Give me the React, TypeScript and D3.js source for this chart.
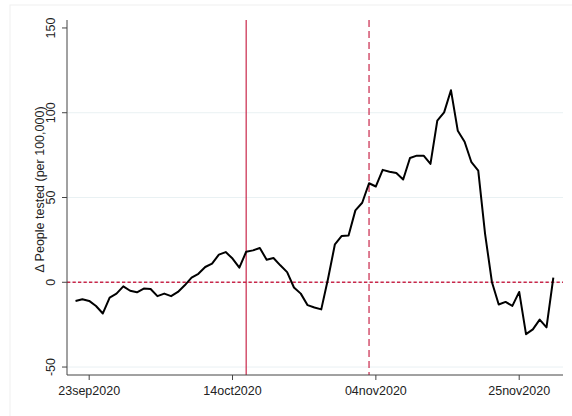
import React from 'react';
import * as d3 from 'd3';

// daily change in people tested per 100,000, starting 21 Sep 2020
const startDay = '2020-09-21';
const values: number[] = [
  -11, -10, -11, -14, -18.4, -9, -6.7, -2.4, -5, -5.9,
  -3.7, -4, -8.2, -6.7, -8.2, -5.7, -1.8, 2.7, 5, 9,
  11, 16.3, 17.8, 14, 8.6, 18, 18.8, 20.2, 13.3, 14.3,
  10, 6, -3.1, -6.7, -13.5, -14.9, -16, 2.2, 22.4, 27.3,
  27.6, 42.4, 46.9, 58.4, 56.5, 66.3, 65.2, 64.4, 60.6, 73.3,
  74.7, 74.7, 69.8, 95.3, 100.2, 113.3, 89.4, 82.9, 70.8, 65.9,
  28.6, 0.2, -13.1, -11.6, -13.9, -5.7, -30.6, -27.8, -22, -26.6,
  2.8,
];

const xTickLabels = ['23sep2020', '14oct2020', '04nov2020', '25nov2020'];
const xTickDates = ['2020-09-23', '2020-10-14', '2020-11-04', '2020-11-25'];
const yTicks = [-50, 0, 50, 100, 150];
const yGrid = [-50, 0, 50, 100];
const eventSolid = '2020-10-16';
const eventDashed = '2020-11-03';
const yTitle = 'Δ People tested (per 100,000)';

const W = 572;
const H = 416;
const left = 67;
const right = 563;
const top = 20;
const bottom = 375;
const font = '"Liberation Sans", Arial, Helvetica, sans-serif';
const red = '#c9274a';

const parse = d3.utcParse('%Y-%m-%d');

export default function App() {
  const ref23 = parse('2020-09-23')!;
  const x = d3.scaleUtc()
    .domain([d3.utcHour.offset(ref23, -3.22 * 24), d3.utcHour.offset(ref23, 69.44 * 24)])
    .range([left, right]);
  const y = d3.scaleLinear().domain([-54.7, 154.7]).range([bottom, top]);

  const start = parse(startDay)!;
  const points = values.map((v, i) => ({ date: d3.utcDay.offset(start, i), v }));
  const line = d3.line<{ date: Date; v: number }>()
    .x(d => x(d.date))
    .y(d => y(d.v));

  const xs = x(parse(eventSolid)!);
  const xd = x(parse(eventDashed)!);

  return (
    <svg width={W} height={H} style={{ position: 'absolute', left: 0, top: 0, background: '#fff' }}
      fontFamily={font}>
      <rect x={10} y={5} width={W} height={H} fill="#fff" stroke="#f0f0f0" />
      {yGrid.map(t => (
        <line key={t} x1={left} x2={right} y1={y(t)} y2={y(t)} stroke="#e9f1f3" strokeWidth={1} />
      ))}
      <line x1={left} x2={right} y1={y(0)} y2={y(0)} stroke={red} strokeWidth={1.3} strokeDasharray="3.3,2.2" />
      <line x1={xs} x2={xs} y1={top} y2={bottom} stroke={red} strokeWidth={1.2} />
      <line x1={xd} x2={xd} y1={top} y2={bottom} stroke={red} strokeWidth={1.2} strokeDasharray="7,4" />
      <path d={line(points) ?? ''} fill="none" stroke="#000" strokeWidth={2} strokeLinejoin="round" />
      {/* axes */}
      <line x1={left} x2={left} y1={top} y2={bottom} stroke="#444" />
      <line x1={left} x2={right} y1={bottom} y2={bottom} stroke="#444" />
      {yTicks.map(t => (
        <g key={t}>
          <line x1={left - 5} x2={left} y1={y(t)} y2={y(t)} stroke="#444" />
          <text transform={`translate(55,${y(t)}) rotate(-90)`} textAnchor="middle" fontSize={12.5} fill="#222">{t}</text>
        </g>
      ))}
      {xTickDates.map((d, i) => {
        const px = x(parse(d)!);
        return (
          <g key={d}>
            <line x1={px} x2={px} y1={bottom} y2={bottom + 5} stroke="#444" />
            <text x={px} y={395} textAnchor="middle" fontSize={12.5} fill="#222">{xTickLabels[i]}</text>
          </g>
        );
      })}
      <text transform={`translate(44,${(top + bottom) / 2 - 8}) rotate(-90)`} textAnchor="middle" fontSize={12.5} fill="#222">{yTitle}</text>
    </svg>
  );
}
